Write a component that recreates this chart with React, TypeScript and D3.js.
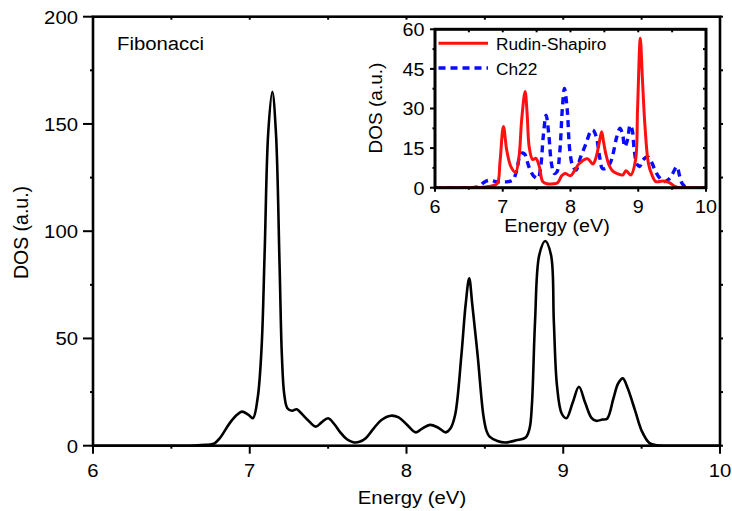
import React from "react";
import * as d3 from "d3";

// Main panel: Fibonacci DOS
const fibE = [6.0, 6.5, 6.65, 6.72, 6.77, 6.81, 6.87, 6.92, 6.95, 6.99, 7.02, 7.05, 7.075, 7.095, 7.118, 7.144, 7.167, 7.19, 7.205, 7.22, 7.24, 7.27, 7.30, 7.33, 7.37, 7.42, 7.46, 7.50, 7.54, 7.58, 7.62, 7.66, 7.70, 7.74, 7.79, 7.84, 7.90, 7.95, 8.00, 8.06, 8.10, 8.15, 8.20, 8.25, 8.28, 8.31, 8.35, 8.377, 8.40, 8.42, 8.454, 8.49, 8.51, 8.53, 8.58, 8.63, 8.70, 8.76, 8.785, 8.80, 8.82, 8.847, 8.885, 8.922, 8.94, 8.96, 8.99, 9.02, 9.06, 9.10, 9.14, 9.18, 9.21, 9.25, 9.28, 9.32, 9.35, 9.38, 9.41, 9.46, 9.50, 9.55, 9.60, 9.70, 10.0];
const fibDOS = [0, 0, 0.1, 0.4, 0.9, 3.6, 10.3, 14.5, 15.9, 14.5, 12.8, 22, 45, 90, 146, 165, 146, 85, 42, 24, 17.5, 16.3, 17, 15, 12, 8.9, 11, 12.8, 10, 6, 3, 1.6, 1.8, 3.5, 8, 12, 14, 13.2, 10, 6.2, 8, 9.7, 8.5, 6.2, 8, 14.3, 42, 65.6, 78, 65.6, 42, 14.3, 7, 4.2, 2.2, 1.5, 2.5, 3.8, 8, 19, 57.8, 88.9, 95.4, 88.9, 57.8, 28, 15, 12.8, 20, 27.5, 20, 13, 11.6, 12.2, 12.6, 22, 29, 31.4, 27, 16, 7, 1.2, 0.2, 0, 0];

// Inset: Rudin-Shapiro DOS
const rsE = [6.0, 6.5, 6.7, 6.85, 6.92, 6.96, 7.01, 7.06, 7.12, 7.19, 7.24, 7.28, 7.33, 7.36, 7.39, 7.44, 7.49, 7.54, 7.59, 7.65, 7.75, 7.81, 7.87, 7.92, 8.0, 8.06, 8.13, 8.25, 8.33, 8.38, 8.42, 8.46, 8.49, 8.52, 8.57, 8.62, 8.7, 8.77, 8.82, 8.89, 8.96, 8.99, 9.03, 9.06, 9.1, 9.15, 9.2, 9.26, 9.36, 9.45, 9.56, 9.65, 10.0];
const rsDOS = [0, 0, 0.2, 0.8, 1.6, 10, 23.2, 14, 8, 5.8, 11.7, 26, 36.4, 28, 15.5, 10.7, 11.1, 8, 2.3, 1.5, 1.5, 1.9, 4.5, 5.4, 4.5, 6.5, 9.2, 11, 9, 11.7, 16.5, 21.2, 17, 13, 8.5, 6.4, 5.2, 4.8, 6.4, 4.8, 10.5, 30, 56.6, 42, 23, 9.2, 5, 2.3, 2.5, 2.0, 0.3, 0, 0];

// Inset: Ch22 DOS
const chE = [6.0, 6.55, 6.65, 6.72, 6.8, 6.9, 7.0, 7.08, 7.15, 7.2, 7.27, 7.32, 7.36, 7.4, 7.46, 7.52, 7.56, 7.6, 7.64, 7.68, 7.72, 7.76, 7.8, 7.84, 7.88, 7.91, 7.95, 7.99, 8.03, 8.08, 8.15, 8.23, 8.3, 8.33, 8.38, 8.43, 8.47, 8.52, 8.58, 8.63, 8.68, 8.73, 8.77, 8.8, 8.84, 8.88, 8.91, 8.94, 8.98, 9.02, 9.07, 9.14, 9.2, 9.25, 9.3, 9.38, 9.45, 9.5, 9.57, 9.61, 9.65, 9.72, 10.0];
const chDOS = [0, 0, 0.5, 2, 2.8, 2.3, 2.2, 2.3, 2.9, 6, 13, 12.8, 10, 7, 4.3, 3.5, 8, 20, 27.5, 20, 9, 5.4, 6, 13, 30, 37.6, 30, 14, 8.5, 6.7, 11.7, 16.8, 21.5, 21.9, 19.3, 11.7, 7.3, 7.3, 9, 13, 19, 22.5, 20, 15.5, 18, 23.7, 22, 14.5, 9, 8, 10.5, 11.7, 9.5, 6.5, 4.2, 2.3, 3.2, 5, 8, 4.5, 1.5, 0, 0];

const mainXTicks = [6, 7, 8, 9, 10];
const mainYTicks = [0, 50, 100, 150, 200];
const insetXTicks = [6, 7, 8, 9, 10];
const insetYTicks = [0, 15, 30, 45, 60];

const FONT = "'Liberation Sans', Arial, Helvetica, sans-serif";

function T({ x, y, anchor = "start", size = 19, sx = 1.07, rotate = 0, children }: any) {
  const tr = rotate ? `translate(${x},${y}) rotate(${rotate})` : `translate(${x},${y}) scale(${sx},1)`;
  return (
    <text transform={tr} textAnchor={anchor} fontSize={size} fontFamily={FONT} fill="#000">
      {children}
    </text>
  );
}

export default function App() {
  const mx = d3.scaleLinear().domain([6, 10]).range([93, 720]);
  const my = d3.scaleLinear().domain([0, 200]).range([445.7, 16.7]);
  const ix = d3.scaleLinear().domain([6, 10]).range([435, 706]);
  const iy = d3.scaleLinear().domain([0, 60]).range([187.7, 29.3]);

  const curve = d3.curveCatmullRom.alpha(0.5);
  const mainLine = d3.line<number>().x((_, i) => mx(fibE[i])).y((d) => my(d)).curve(curve);
  const rsLine = d3.line<number>().x((_, i) => ix(rsE[i])).y((d) => iy(d)).curve(curve);
  const chLine = d3.line<number>().x((_, i) => ix(chE[i])).y((d) => iy(d)).curve(curve);

  const mainMinorX = d3.range(6, 10.001, 0.5);
  const mainMinorY = d3.range(0, 200.001, 25);
  const insetMinorX = d3.range(6, 10.001, 0.5);
  const insetMinorY = d3.range(0, 60.001, 7.5);

  const [mx0, mx1] = mx.range();
  const [my0, my1] = my.range();
  const [ix0, ix1] = ix.range();
  const [iy0, iy1] = iy.range();

  return (
    <div style={{ position: "absolute", left: 0, top: 0 }}>
      <svg width={732} height={511} style={{ display: "block", background: "#fff" }}>
        <defs>
          <clipPath id="mainClip">
            <rect x={mx0} y={my1} width={mx1 - mx0} height={my0 - my1} />
          </clipPath>
          <clipPath id="insetClip">
            <rect x={ix0} y={iy1} width={ix1 - ix0} height={iy0 - iy1} />
          </clipPath>
        </defs>
        <g clipPath="url(#mainClip)">
          <path d={mainLine(fibDOS) || ""} fill="none" stroke="#000" strokeWidth={2.6} strokeLinejoin="round" />
        </g>

        <g stroke="#000" strokeWidth={2}>
          {mainMinorX.map((v) => (
            <g key={"mx" + v}>
              <line x1={mx(v)} x2={mx(v)} y1={my0} y2={my0 + (mainXTicks.includes(v) ? 8 : 3)} />
              <line x1={mx(v)} x2={mx(v)} y1={my1} y2={my1 + 3} />
            </g>
          ))}
          {mainMinorY.map((v) => (
            <g key={"my" + v}>
              <line x1={mx0} x2={mx0 - (mainYTicks.includes(v) ? 10 : 3)} y1={my(v)} y2={my(v)} />
              <line x1={mx1} x2={mx1 + 3} y1={my(v)} y2={my(v)} />
            </g>
          ))}
        </g>
        <rect x={mx0} y={my1} width={mx1 - mx0} height={my0 - my1} fill="none" stroke="#000" strokeWidth={2.6} />

        {mainXTicks.map((v) => (
          <T key={"mxl" + v} x={mx(v)} y={477} anchor="middle">
            {v}
          </T>
        ))}
        {mainYTicks.map((v) => (
          <T key={"myl" + v} x={78} y={my(v) + 6.8} anchor="end">
            {v}
          </T>
        ))}
        <T x={412} y={504} anchor="middle">Energy (eV)</T>
        <T x={28} y={232.5} anchor="middle" rotate={-90} size={19.5}>
          DOS (a.u.)
        </T>
        <T x={117} y={50}>Fibonacci</T>

        {/* Inset */}
        <rect x={ix0} y={iy1} width={ix1 - ix0} height={iy0 - iy1} fill="#fff" />
        <g clipPath="url(#insetClip)">
          <path d={chLine(chDOS) || ""} fill="none" stroke="#0a0aff" strokeWidth={3.4} strokeDasharray="7,5" />
          <path d={rsLine(rsDOS) || ""} fill="none" stroke="#ff1010" strokeWidth={3} strokeLinejoin="round" />
        </g>
        <g stroke="#000" strokeWidth={2}>
          {insetMinorX.map((v) => (
            <g key={"ix" + v}>
              <line x1={ix(v)} x2={ix(v)} y1={iy0} y2={iy0 + (insetXTicks.includes(v) ? 4 : 2)} />
              <line x1={ix(v)} x2={ix(v)} y1={iy1} y2={iy1 + 3} />
            </g>
          ))}
          {insetMinorY.map((v) => (
            <g key={"iy" + v}>
              <line x1={ix0} x2={ix0 - (insetYTicks.includes(v) ? 5 : 2.5)} y1={iy(v)} y2={iy(v)} />
              <line x1={ix1} x2={ix1 - 3} y1={iy(v)} y2={iy(v)} />
            </g>
          ))}
        </g>
        <rect x={ix0} y={iy1} width={ix1 - ix0} height={iy0 - iy1} fill="none" stroke="#000" strokeWidth={3} />

        {insetXTicks.map((v) => (
          <T key={"ixl" + v} x={ix(v)} y={212.5} anchor="middle" size={18.5}>
            {v}
          </T>
        ))}
        {insetYTicks.map((v) => (
          <T key={"iyl" + v} x={424.5} y={iy(v) + 6.8} anchor="end" size={18.5}>
            {v}
          </T>
        ))}
        <T x={557} y={232} anchor="middle" size={18.5}>Energy (eV)</T>
        <T x={382} y={108} anchor="middle" rotate={-90} size={19}>
          DOS (a.u.)
        </T>

        <line x1={438.5} x2={488} y1={43.3} y2={43.3} stroke="#ff1010" strokeWidth={3} />
        <T x={496} y={49.5} size={17.3} sx={1}>Rudin-Shapiro</T>
        <line x1={438.5} x2={488} y1={68} y2={68} stroke="#0a0aff" strokeWidth={3.4} strokeDasharray="7,5" />
        <T x={496} y={74.5} size={17.3} sx={1}>Ch22</T>
      </svg>
    </div>
  );
}
